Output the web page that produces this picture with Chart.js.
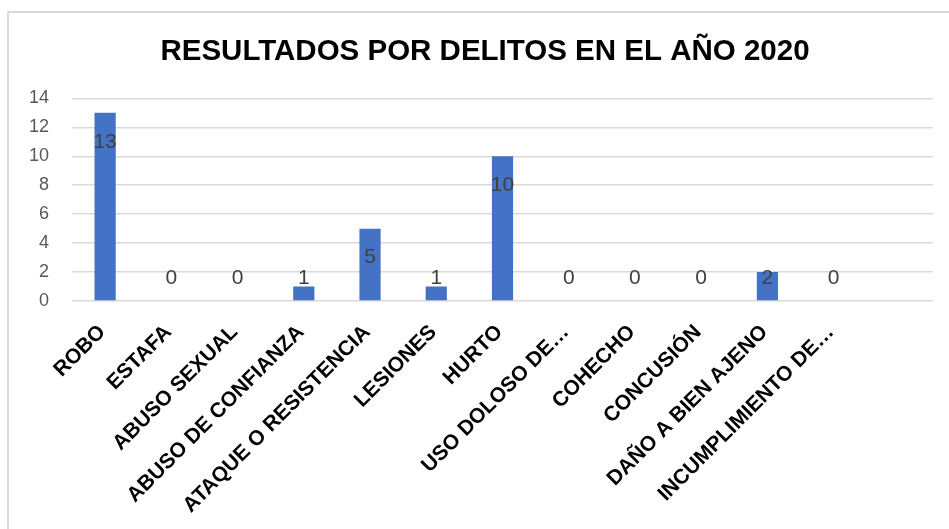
<!DOCTYPE html>
<html>
<head>
<meta charset="utf-8">
<script src="https://cdn.jsdelivr.net/npm/chart.js@4"></script>
<style>
html,body{margin:0;padding:0;background:#fff;}
#frame{position:absolute;left:7px;top:11px;width:960px;height:540px;border-left:2px solid #d9d9d9;border-top:2px solid #d9d9d9;}
#wrap{position:absolute;left:0;top:0;width:949px;height:529px;}
</style>
</head>
<body>
<div id="frame"></div>
<div id="wrap"><canvas id="c" width="949" height="529"></canvas></div>
<script>
const categories = ['ROBO','ESTAFA','ABUSO SEXUAL','ABUSO DE CONFIANZA','ATAQUE O RESISTENCIA','LESIONES','HURTO','USO DOLOSO DE…','COHECHO','CONCUSIÓN','DAÑO A BIEN AJENO','INCUMPLIMIENTO DE…',''];
const values = [13,0,0,1,5,1,10,0,0,0,2,0,null];
const yTicks = [0,2,4,6,8,10,12,14];
const titleText = 'RESULTADOS POR DELITOS EN EL AÑO 2020';

const labelPlugin = {
  id: 'valueLabels',
  afterDatasetsDraw(chart) {
    const ctx = chart.ctx;
    const meta = chart.getDatasetMeta(0);
    const ys = chart.scales.y;
    const base = ys.getPixelForValue(0);
    ctx.save();
    ctx.font = '21px "Liberation Sans", Arial, sans-serif';
    ctx.fillStyle = '#404040';
    ctx.textAlign = 'center';
    ctx.textBaseline = 'middle';
    meta.data.forEach((bar, i) => {
      const v = values[i];
      if (v === null || v === undefined) return;
      const top = ys.getPixelForValue(v);
      const y = Math.min(top + 29, base - 23);
      ctx.fillText(String(v), bar.x, y);
    });
    ctx.restore();
  }
};

new Chart(document.getElementById('c'), {
  type: 'bar',
  data: {
    labels: categories,
    datasets: [{
      data: values,
      backgroundColor: '#4472C4',
      borderWidth: 0,
      categoryPercentage: 1,
      barPercentage: 0.32
    }]
  },
  options: {
    responsive: false,
    animation: false,
    layout: { padding: { left: 21, right: 0, top: 0, bottom: 0 } },
    plugins: {
      legend: { display: false },
      tooltip: { enabled: false },
      title: {
        display: true,
        text: titleText,
        color: '#000',
        font: { family: '"Liberation Sans", Arial, sans-serif', size: 29.5, weight: 'bold' },
        padding: { top: 34, bottom: 29 }
      }
    },
    scales: {
      x: {
        grid: { display: false, drawTicks: false },
        border: { display: false },
        ticks: {
          autoSkip: false,
          maxRotation: 45,
          minRotation: 45,
          padding: 19,
          labelOffset: -3,
          color: '#000',
          font: { family: '"Liberation Sans", Arial, sans-serif', size: 21, weight: 'bold' }
        },
        afterFit(s) { s.height = 228; }
      },
      y: {
        min: 0,
        max: 14,
        afterBuildTicks(s) { s.ticks = yTicks.map(v => ({ value: v })); },
        grid: { color: '#d9d9d9', lineWidth: 1.5, drawTicks: false },
        border: { display: false },
        ticks: {
          padding: 23,
          color: '#595959',
          font: { family: '"Liberation Sans", Arial, sans-serif', size: 18 }
        },
        afterFit(s) { s.width = 51; }
      },
      yRight: {
        position: 'right',
        display: true,
        grid: { display: false, drawTicks: false },
        border: { display: false },
        ticks: { display: false },
        afterFit(s) { s.width = 16; }
      }
    }
  },
  plugins: [labelPlugin]
});
</script>
</body>
</html>
